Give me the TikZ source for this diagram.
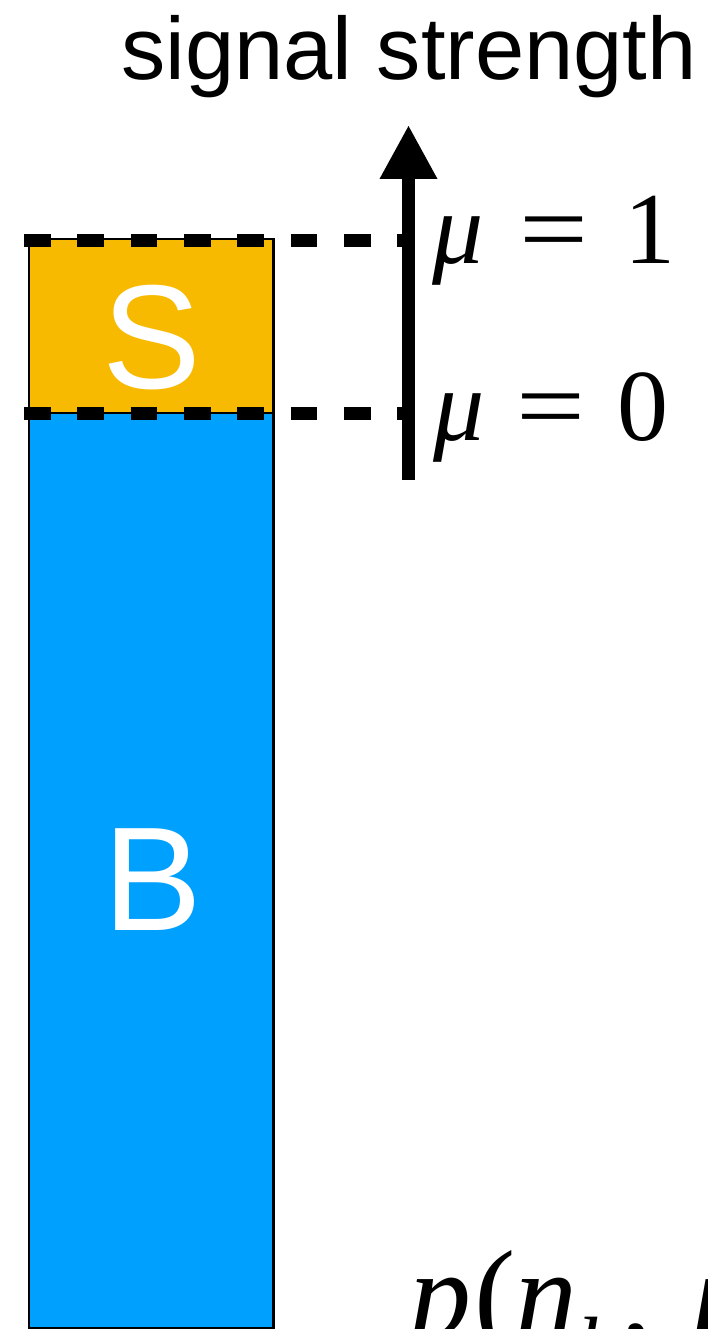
\documentclass[tikz,border=0pt]{standalone}
\usepackage{fontspec}
\setmainfont{Liberation Serif}
\setsansfont{Liberation Sans}
\usetikzlibrary{arrows.meta}
\definecolor{sigorange}{RGB}{247,186,0}
\definecolor{bkgblue}{RGB}{0,160,255}
\tikzset{
  boxline/.style={draw=black, line width=2.3pt},
  dashline/.style={line width=13pt, dash pattern=on 26.7pt off 26.6pt},
  axisarrow/.style={line width=13pt, -{Triangle[length=54pt,width=54pt]}},
  boxlabel/.style={anchor=base, inner sep=0pt, text=white, font=\sffamily\fontsize{148}{148}\selectfont},
  mulabel/.style={anchor=base west, inner sep=0pt, font=\fontsize{102}{102}\selectfont},
}
\newcommand{\bigeq}{\scalebox{1.2}[1]{=}}
\begin{document}
\begin{tikzpicture}[x=1pt,y=-1pt]
\useasboundingbox (0,0) rectangle (708,1329);
\clip (0,0) rectangle (708,1329);
\fill[white] (0,0) rectangle (708,1329);
% boxes
\fill[bkgblue] (29,413) rectangle (273.5,1328);
\draw[boxline] (29,413) rectangle (273.5,1328);
\fill[sigorange] (29,239) rectangle (273.5,413);
\draw[boxline] (29,239) rectangle (273.5,413);
\node[boxlabel] (S) at (152,388) {S};
\node[boxlabel] (B) at (153,930) {B};
% dashed levels
\coordinate (d1s) at (24,240.5);
\coordinate (d1e) at (408.5,240.5);
\coordinate (d0s) at (24,413);
\coordinate (d0e) at (408.5,413);
\draw[dashline] (d1s) -- (d1e);
\draw[dashline] (d0s) -- (d0e);
% axis
\coordinate (ab) at (408.5,480);
\coordinate (at) at (408.5,125);
\draw[axisarrow] (ab) -- (at);
% labels
\node[anchor=base west, inner sep=0pt, font=\sffamily\fontsize{88.5}{88.5}\selectfont] (title) at (121,80) {signal strength};
\node[mulabel] (mu1) at (432,264) {\itshape μ\hspace{36pt}\upshape\bigeq\hspace{36pt}1};
\node[mulabel] (mu0) at (433,440) {\itshape μ\hspace{32pt}\upshape\bigeq\hspace{32pt}0};
\node[anchor=base west, inner sep=0pt, font=\fontsize{124}{124}\selectfont] (like) at (409,1336)
  {\itshape p\hspace{3pt}\upshape(\itshape n\raisebox{-41pt}{\fontsize{87}{87}\selectfont b}\upshape,\hspace{40pt}\itshape μ};
\end{tikzpicture}
\end{document}
